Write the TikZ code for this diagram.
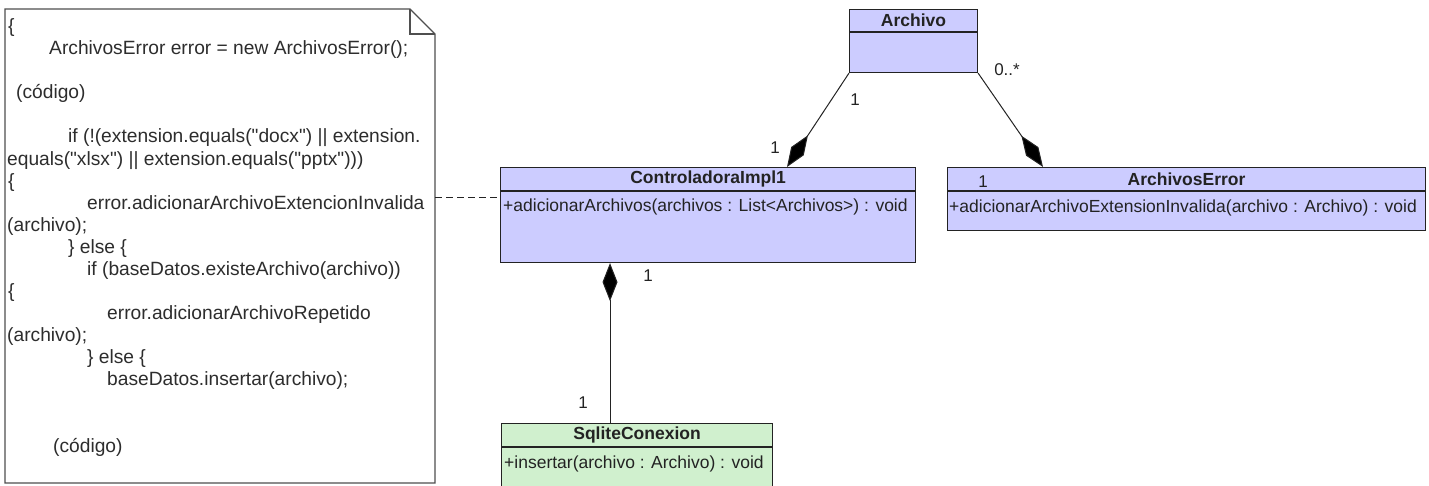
\documentclass[tikz,border=0pt]{standalone}
\usepackage{fontspec}
\setmainfont{Liberation Sans}
\newfontfamily\codefont{Liberation Sans}[Ligatures=TeXOff]
\usetikzlibrary{arrows.meta}
\definecolor{classfill}{RGB}{204,204,255}
\definecolor{dbfill}{RGB}{208,240,206}
\definecolor{ink}{RGB}{35,35,35}
\definecolor{notetext}{RGB}{45,45,45}

\begin{document}
\begin{tikzpicture}[x=1pt,y=-1pt,
  classbox/.style={draw=ink, line width=1.1pt, fill=classfill, anchor=north west, inner sep=0pt},
  hdr/.style={font=\fontsize{17.5}{20}\selectfont\bfseries, text=ink, inner sep=0pt},
  member/.style={font=\fontsize{17.5}{20}\selectfont, text=ink, anchor=base west, inner sep=0pt},
  mult/.style={font=\fontsize{17}{20}\selectfont, text=ink, inner sep=0pt},
  codeline/.style={font=\codefont\fontsize{19.2}{22}\selectfont, text=notetext, anchor=base west, inner sep=0pt},
  notebox/.style={draw=ink!80, line width=1.3pt, fill=white, line join=miter},
  assoc/.style={draw=ink, line width=1pt},
  comp/.style={assoc, {Diamond[length=38pt,width=15pt,fill=black]}-},
]
\useasboundingbox (0,0) rectangle (1429,486);
\clip (0,0) rectangle (1429,486);

% ---- code note with folded corner ----
\draw[notebox] (5,9) -- (410,9) -- (435,34) -- (435,483) -- (5,483) -- cycle;
\draw[notebox, fill=none] (410,9) -- (410,34) -- (435,34);
\coordinate (noteE) at (435,198);

\node[codeline] (code0)  at (8,33)     {\{};
\node[codeline] (code1)  at (49,55)    {ArchivosError error = new ArchivosError();};
\node[codeline] (code3)  at (16,99)    {(código)};
\node[codeline] (code5)  at (68,143)   {if (!(extension.equals("docx") || extension.};
\node[codeline] (code6)  at (7,165.3)  {equals("xlsx") || extension.equals("pptx")))};
\node[codeline] (code7)  at (8,187.3)  {\{};
\node[codeline] (code8)  at (87,209.4) {error.adicionarArchivoExtencionInvalida};
\node[codeline] (code9)  at (7,231.5)  {(archivo);};
\node[codeline] (code10) at (68,253.5) {\} else \{};
\node[codeline] (code11) at (87,275.5) {if (baseDatos.existeArchivo(archivo))};
\node[codeline] (code12) at (8,297.6)  {\{};
\node[codeline] (code13) at (107,319.6){error.adicionarArchivoRepetido};
\node[codeline] (code14) at (7,341.7)  {(archivo);};
\node[codeline] (code15) at (87,363.7) {\} else \{};
\node[codeline] (code16) at (107,385.8){baseDatos.insertar(archivo);};
\node[codeline] (code19) at (53,452)   {(código)};

% ---- classes ----
\node[classbox, minimum width=128pt, minimum height=63pt] (archivo) at (849,9) {};
\draw[ink, line width=1.1pt] ([yshift=-23pt]archivo.north west) -- ([yshift=-23pt]archivo.north east);
\node[hdr] (archivoT) at ([yshift=-11.5pt]archivo.north) {Archivo};

\node[classbox, minimum width=415pt, minimum height=95pt] (ctrl) at (500,167) {};
\draw[ink, line width=1.1pt] ([yshift=-24pt]ctrl.north west) -- ([yshift=-24pt]ctrl.north east);
\node[hdr] (ctrlT) at ([yshift=-12pt]ctrl.north) {ControladoraImpl1};
\node[member] (ctrlM) at ([xshift=3pt,yshift=-45pt]ctrl.north west) {+adicionarArchivos(archivos : List<Archivos>) : void};

\node[classbox, minimum width=478pt, minimum height=63pt] (aerr) at (947,167) {};
\draw[ink, line width=1.1pt] ([yshift=-24pt]aerr.north west) -- ([yshift=-24pt]aerr.north east);
\node[hdr] (aerrT) at ([yshift=-12pt]aerr.north) {ArchivosError};
\node[member] (aerrM) at ([xshift=2pt,yshift=-46pt]aerr.north west) {+adicionarArchivoExtensionInvalida(archivo : Archivo) : void};

\node[classbox, fill=dbfill, minimum width=271pt, minimum height=80pt] (sql) at (501,423) {};
\draw[ink, line width=1.1pt] ([yshift=-24pt]sql.north west) -- ([yshift=-24pt]sql.north east);
\node[hdr] (sqlT) at ([yshift=-12pt]sql.north) {SqliteConexion};
\node[member] (sqlM) at ([xshift=3pt,yshift=-45pt]sql.north west) {+insertar(archivo : Archivo) : void};

% ---- connectors ----
\coordinate (ctrlTop) at ([xshift=287pt]ctrl.north west);
\coordinate (aerrTop) at ([xshift=96pt]aerr.north west);
\coordinate (ctrlBot) at ([xshift=110pt]ctrl.south west);
\coordinate (sqlTop)  at (ctrlBot |- sql.north);

\draw[comp] (ctrlTop) -- (archivo.south west);
\draw[comp] (aerrTop) -- (archivo.south east);
\draw[comp] (ctrlBot) -- (sqlTop);
\draw[ink, line width=1pt, dash pattern=on 7pt off 4pt] (noteE) -- (noteE -| ctrl.west);

% ---- multiplicities ----
\node[mult] (m1) at (855,100) {1};
\node[mult] (m2) at (775,148) {1};
\node[mult] (m3) at (1007,70) {0..*};
\node[mult] (m4) at (983,182) {1};
\node[mult] (m5) at (648,276) {1};
\node[mult] (m6) at (583,403) {1};
\end{tikzpicture}
\end{document}
